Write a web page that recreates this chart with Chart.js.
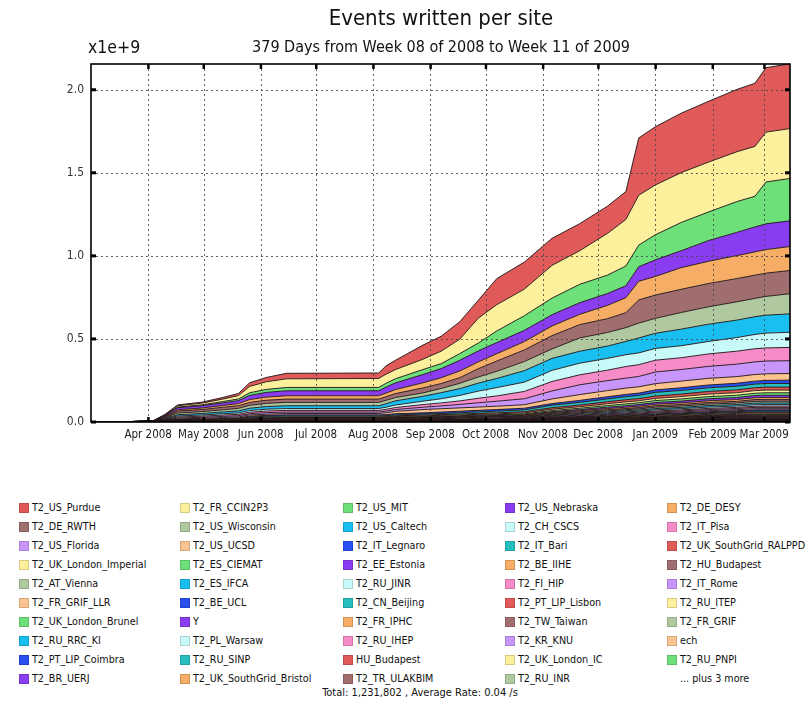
<!DOCTYPE html>
<html>
<head>
<meta charset="utf-8">
<script src="https://cdn.jsdelivr.net/npm/chart.js@4/dist/chart.umd.min.js"></script>
<style>
  body { margin: 0; background: #fff; }
  #page { position: relative; width: 806px; height: 703px; overflow: hidden; background: #fff;
          font-family: 'DejaVu Sans Condensed', 'DejaVu Sans', sans-serif; color: #111; }
  #plot { position: absolute; left: 0; top: 0; }
  .txt { position: absolute; white-space: nowrap; }
  #title { left: 91px; width: 700px; top: 4px; text-align: center; font-size: 22px; line-height: 28px; }
  #subtitle { left: 91px; width: 700px; top: 37px; text-align: center; font-size: 16px; line-height: 20px; }
  #exponent { left: 88px; top: 36px; font-size: 17.5px; line-height: 22px; }
  .legend-item { position: absolute; height: 14px; font-size: 10.7px; line-height: 14px; white-space: nowrap; }
  .legend-item .sw { position: absolute; left: 0; top: 2px; width: 10px; height: 10px; box-sizing: border-box;
                     border: 1px solid rgba(0,0,0,0.15); }
  .legend-item .lbl { position: absolute; left: 13px; top: 0; }
  #total { left: 0; width: 840px; top: 686px; text-align: center; font-size: 11px; line-height: 14px; }
</style>
</head>
<body>
<div id="page">
  <canvas id="plot" width="806" height="460"></canvas>
  <div class="txt" id="title">Events written per site</div>
  <div class="txt" id="subtitle">379 Days from Week 08 of 2008 to Week 11 of 2009</div>
  <div class="txt" id="exponent">x1e+9</div>
  <div id="legend"></div>
  <div class="txt" id="total">Total: 1,231,802 , Average Rate: 0.04 /s</div>
</div>
<script>
// Sample days, counted from 1 Mar 2008; every site value below is the
// cumulative number of events written up to that day, in millions.
const dayIndex = [0, 20, 34, 40, 47, 60, 72, 80, 86, 95, 106, 156, 160, 165, 180, 190,
                  200, 210, 220, 235, 250, 265, 280, 290, 297, 306, 320, 335, 350, 360, 366, 379];

// Month boundaries on the time axis (days from 1 Mar 2008) and their labels
const monthTickDays = [31, 61, 92, 122, 153, 184, 214, 245, 275, 306, 337, 365];
const monthTickLabels = ['Apr 2008', 'May 2008', 'Jun 2008', 'Jul 2008', 'Aug 2008', 'Sep 2008',
                         'Oct 2008', 'Nov 2008', 'Dec 2008', 'Jan 2009', 'Feb 2009', 'Mar 2009'];

// Value axis ticks (millions of events), shown in units of 1e9
const yTickValues = [0, 500, 1000, 1500, 2000];

// Large sites
const T2_US_Purdue     = [0,0,0,2,5,6,10,13,22,26,33,33,50,56,85,90,105,108,157,163,163,163,164,168,345,350,358,366,375,380,388,390];
const T2_FR_CCIN2P3    = [0,0,1,3,8,10,15,20,38,46,52,54,55,55,62,75,87,150,158,160,197,202,251,280,300,300,300,300,300,300,300,300];
const T2_US_MIT        = [0,0,0,1,4,5,8,10,16,18,20,20,23,25,30,30,40,47,70,88,100,111,111,119,130,151,170,172,185,185,252,255];
const T2_US_Nebraska   = [0,0,1,5,12,14,16,18,25,28,30,30,36,40,50,55,65,66,67,68,68,70,71,72,88,100,102,125,140,150,155,155];
const T2_DE_DESY       = [0,0,0,3,8,9,11,13,17,19,20,20,22,24,31,35,40,41,44,50,58,62,80,90,112,112,130,134,138,140,142,144];
const T2_DE_RWTH       = [0,0,1,5,12,13,15,16,18,19,20,20,22,24,30,30,34,50,62,70,80,80,83,90,140,140,140,140,140,140,140,140];
const T2_US_Wisconsin  = [0,0,1,4,10,11,13,15,17,19,20,20,20,20,20,25,32,37,43,55,57,80,82,83,89,90,100,105,110,110,113,121];
const T2_US_Caltech    = [0,0,0,3,8,9,11,12,14,16,17,17,21,25,30,37,41,48,55,69,72,72,74,80,90,91,100,104,105,107,108,111];
const T2_CH_CSCS       = [0,0,1,3,6,7,8,9,10,11,11,11,13,15,20,25,33,43,50,56,67,70,71,71,71,71,72,75,82,86,89,91];
const T2_IT_Pisa       = [0,0,0,3,6,7,8,8,9,10,10,10,11,12,16,18,21,27,32,44,57,60,63,70,71,71,71,75,78,79,79,80];
const T2_US_Florida    = [0,0,0,2,5,6,7,7,8,9,9,9,10,11,14,17,21,26,30,36,48,59,60,60,62,70,70,72,75,76,77,77];
const T2_US_UCSD       = [0,0,0,2,4,5,6,6,7,7,8,8,11,14,20,20,20,20,20,21,28,35,37,38,38,38,40,40,40,40,40,40];
const T2_IT_Legnaro    = [0,0,0,1,2,2,3,4,5,6,6,6,6,7,7,9,9,9,10,10,10,12,13,14,14,15,16,17,18,18,18,20];
const T2_IT_Bari       = [0,0,0,1,2,2,3,3,5,6,6,6,6,6,6,6,8,9,10,11,15,16,17,18,19,22,22,22,22,22,22,22];

// Smaller sites
const T2_UK_SouthGrid_RALPPD = [0,0,1,1,2,2,2,3,3,3,4,4,4,4,5,5,5,6,6,7,9,10,12,13,13,14,15,16,17,17,18,18];
const T2_UK_London_Imperial  = [0,0,0,1,1,1,2,2,2,3,3,3,3,4,4,4,5,5,5,6,8,9,11,12,12,13,14,15,15,16,16,16];
const T2_ES_CIEMAT      = [0,1,1,1,2,2,2,2,3,3,3,3,3,3,4,4,4,4,5,5,7,8,10,11,11,12,13,13,14,14,15,15];
const T2_EE_Estonia     = [0,0,0,0,1,1,1,1,2,2,2,2,2,3,3,3,3,3,4,4,5,7,8,9,10,10,11,12,12,13,13,13];
const T2_BE_IIHE        = [0,0,0,1,1,1,1,1,2,2,2,2,2,2,3,3,3,3,3,4,5,6,7,8,8,9,10,10,11,11,12,12];
const T2_HU_Budapest    = [0,0,1,1,1,1,1,1,2,2,3,3,3,3,3,3,3,3,3,3,5,6,7,7,8,9,9,10,10,11,11,11];
const T2_AT_Vienna      = [0,1,1,1,1,2,2,2,2,3,3,3,3,3,3,3,3,4,4,4,5,5,6,6,7,8,8,9,9,10,10,10];
const T2_ES_IFCA        = [0,0,0,0,1,1,1,1,1,1,2,2,2,2,2,3,3,3,3,3,4,5,6,7,7,8,8,9,9,10,10,10];
const T2_RU_JINR        = [0,0,0,1,1,1,1,1,1,2,2,2,2,2,2,2,3,3,3,3,4,5,5,6,6,7,7,8,8,9,9,9];
const T2_FI_HIP         = [0,0,0,0,0,0,0,0,1,1,1,1,1,1,1,2,2,2,2,2,3,4,4,5,5,6,6,7,7,7,8,8];
const T2_IT_Rome        = [0,0,0,0,0,0,0,1,1,1,1,1,1,1,2,2,2,2,2,3,4,4,5,5,5,6,6,7,7,8,8,8];
const T2_FR_GRIF_LLR    = [0,0,0,0,0,0,0,0,1,1,1,1,1,1,1,1,1,2,2,2,3,3,4,4,5,5,6,6,6,7,7,7];
const T2_BE_UCL         = [0,0,0,0,0,0,0,0,0,0,0,0,0,1,1,1,1,1,1,2,3,3,4,4,4,5,5,6,6,7,7,7];
const T2_CN_Beijing     = [0,0,0,0,0,0,0,0,1,1,1,1,1,1,1,1,1,1,1,2,2,3,3,4,4,4,5,5,5,6,6,6];
const T2_PT_LIP_Lisbon  = [0,0,0,0,0,0,0,0,0,0,0,0,0,1,1,1,1,1,1,1,2,2,3,3,4,4,5,5,5,6,6,6];
const T2_RU_ITEP        = [0,0,0,0,0,0,1,1,1,1,1,1,1,1,1,1,1,1,1,1,2,2,3,3,3,4,4,4,5,5,5,5];
const T2_UK_London_Brunel = [0,0,0,0,0,0,0,1,1,1,1,1,1,1,1,1,1,1,1,1,2,2,3,3,3,3,4,4,4,5,5,5];
const Y                 = [0,0,0,0,0,0,0,0,0,0,0,0,0,0,1,1,1,1,1,1,1,2,2,2,3,3,3,3,4,4,4,4];
const T2_FR_IPHC        = [0,0,0,0,0,1,1,1,1,1,1,1,1,1,1,1,1,1,1,1,2,2,2,3,3,3,3,3,4,4,4,4];
const T2_TW_Taiwan      = [0,0,0,0,0,0,0,0,0,0,0,0,1,1,1,1,1,1,1,1,1,2,2,2,2,3,3,3,3,4,4,4];
const T2_FR_GRIF        = [0,0,0,0,0,0,0,0,0,0,0,0,0,0,0,0,1,1,1,1,1,1,2,2,2,2,2,3,3,3,3,3];
const T2_RU_RRC_KI      = [0,0,0,0,0,0,0,0,0,0,0,0,0,1,1,1,1,1,1,1,1,2,2,2,2,2,2,3,3,3,3,3];
const T2_PL_Warsaw      = [0,0,0,0,0,0,0,0,0,0,0,0,0,0,0,1,1,1,1,1,1,1,2,2,2,2,2,2,3,3,3,3];
const T2_RU_IHEP        = [0,0,0,0,0,0,0,0,0,0,0,0,0,0,0,0,0,1,1,1,1,1,1,2,2,2,2,3,3,3,3,3];
const T2_KR_KNU         = [0,0,0,0,0,0,0,0,0,0,0,0,0,0,0,0,0,0,1,1,1,1,1,1,1,1,2,2,2,2,2,2];
const ech               = [0,0,0,0,0,0,0,0,0,0,0,0,0,0,0,0,0,0,0,1,1,1,1,1,1,2,2,2,2,2,2,2];
const T2_PT_LIP_Coimbra = [0,0,0,0,0,0,0,0,0,0,0,0,0,0,0,0,0,0,0,0,1,1,1,1,1,1,1,2,2,2,2,2];
const T2_RU_SINP        = [0,0,0,0,0,0,0,0,0,0,0,0,0,0,0,0,0,0,0,0,0,1,1,1,1,1,2,2,2,2,2,2];
const HU_Budapest       = [0,0,0,0,0,0,0,0,0,0,0,0,0,0,0,0,0,0,0,0,1,1,1,1,1,1,1,1,2,2,2,2];
const T2_UK_London_IC   = [0,0,0,0,0,0,0,0,0,0,0,0,0,0,0,0,0,0,0,0,0,0,1,1,1,1,1,2,2,2,2,2];
const T2_RU_PNPI        = [0,0,0,0,0,0,0,0,0,0,0,0,0,0,0,0,0,0,0,0,0,1,1,1,1,1,1,1,1,1,1,1];
const T2_BR_UERJ        = [0,0,0,0,0,0,0,0,0,0,0,0,0,0,0,0,0,0,0,0,0,0,0,1,1,1,1,1,1,1,1,1];
const T2_UK_SouthGrid_Bristol = [0,0,0,0,0,0,0,0,0,0,0,0,0,0,0,0,0,0,0,0,0,0,0,0,0,1,1,1,1,1,1,1];
const T2_TR_ULAKBIM     = [0,0,0,0,0,0,0,0,0,0,0,0,0,0,0,0,0,0,0,0,1,1,1,1,1,1,1,1,1,1,1,1];
const T2_RU_INR         = [0,0,0,0,0,0,0,0,0,0,0,0,0,0,0,0,0,0,0,0,0,0,0,0,0,0,1,1,1,1,1,1];
// Remaining three sites (not listed by name)
const moreSiteA         = [0,0,0,0,0,0,0,0,0,0,0,0,0,0,0,0,0,0,0,0,0,0,0,0,1,1,1,1,1,1,1,1];
const moreSiteB         = [0,0,0,0,0,0,0,0,0,0,0,0,0,0,0,0,0,0,0,0,0,0,0,0,0,0,0,1,1,1,1,1];
const moreSiteC         = [0,0,0,0,0,0,0,0,0,0,0,0,0,0,0,0,0,0,0,0,0,0,0,0,0,0,0,0,1,1,1,1];

// Stack order, top band first (this is also the legend order)
const sites = [
  ['T2_US_Purdue', T2_US_Purdue], ['T2_FR_CCIN2P3', T2_FR_CCIN2P3], ['T2_US_MIT', T2_US_MIT],
  ['T2_US_Nebraska', T2_US_Nebraska], ['T2_DE_DESY', T2_DE_DESY], ['T2_DE_RWTH', T2_DE_RWTH],
  ['T2_US_Wisconsin', T2_US_Wisconsin], ['T2_US_Caltech', T2_US_Caltech], ['T2_CH_CSCS', T2_CH_CSCS],
  ['T2_IT_Pisa', T2_IT_Pisa], ['T2_US_Florida', T2_US_Florida], ['T2_US_UCSD', T2_US_UCSD],
  ['T2_IT_Legnaro', T2_IT_Legnaro], ['T2_IT_Bari', T2_IT_Bari], ['T2_UK_SouthGrid_RALPPD', T2_UK_SouthGrid_RALPPD],
  ['T2_UK_London_Imperial', T2_UK_London_Imperial], ['T2_ES_CIEMAT', T2_ES_CIEMAT], ['T2_EE_Estonia', T2_EE_Estonia],
  ['T2_BE_IIHE', T2_BE_IIHE], ['T2_HU_Budapest', T2_HU_Budapest], ['T2_AT_Vienna', T2_AT_Vienna],
  ['T2_ES_IFCA', T2_ES_IFCA], ['T2_RU_JINR', T2_RU_JINR], ['T2_FI_HIP', T2_FI_HIP],
  ['T2_IT_Rome', T2_IT_Rome], ['T2_FR_GRIF_LLR', T2_FR_GRIF_LLR], ['T2_BE_UCL', T2_BE_UCL],
  ['T2_CN_Beijing', T2_CN_Beijing], ['T2_PT_LIP_Lisbon', T2_PT_LIP_Lisbon], ['T2_RU_ITEP', T2_RU_ITEP],
  ['T2_UK_London_Brunel', T2_UK_London_Brunel], ['Y', Y], ['T2_FR_IPHC', T2_FR_IPHC],
  ['T2_TW_Taiwan', T2_TW_Taiwan], ['T2_FR_GRIF', T2_FR_GRIF], ['T2_RU_RRC_KI', T2_RU_RRC_KI],
  ['T2_PL_Warsaw', T2_PL_Warsaw], ['T2_RU_IHEP', T2_RU_IHEP], ['T2_KR_KNU', T2_KR_KNU],
  ['ech', ech], ['T2_PT_LIP_Coimbra', T2_PT_LIP_Coimbra], ['T2_RU_SINP', T2_RU_SINP],
  ['HU_Budapest', HU_Budapest], ['T2_UK_London_IC', T2_UK_London_IC], ['T2_RU_PNPI', T2_RU_PNPI],
  ['T2_BR_UERJ', T2_BR_UERJ], ['T2_UK_SouthGrid_Bristol', T2_UK_SouthGrid_Bristol], ['T2_TR_ULAKBIM', T2_TR_ULAKBIM],
  ['T2_RU_INR', T2_RU_INR], ['', moreSiteA], ['', moreSiteB], ['', moreSiteC]
];
const namedSiteCount = 49;

// Colour cycle used for the bands
const palette = ['#e05a5a', '#fcf09c', '#6ee07a', '#8a3cf0', '#f6ae66', '#a06e6e', '#b0c8a0',
                 '#18bff0', '#c8fafa', '#f58cc8', '#c896fa', '#fac390', '#2850f0', '#28bebe'];

const FONT = "'DejaVu Sans Condensed', 'DejaVu Sans', sans-serif";

// Datasets are added bottom band first so the stack builds upward
const datasets = [];
for (let i = sites.length - 1; i >= 0; i--) {
  const [name, values] = sites[i];
  datasets.push({
    label: name || ('site ' + (i + 1)),
    data: dayIndex.map((d, k) => ({ x: d, y: values[k] })),
    backgroundColor: palette[i % palette.length],
    borderColor: 'rgba(30,18,18,0.9)',
    borderWidth: 1,
    pointRadius: 0,
    tension: 0,
    fill: datasets.length === 0 ? 'origin' : '-1'
  });
}

// Dotted grid over the bands, the frame and the small inward tick marks
const framePlugin = {
  id: 'frame',
  afterDatasetsDraw(chart) {
    const { ctx, chartArea: a, scales: { x, y } } = chart;
    ctx.save();
    ctx.strokeStyle = 'rgba(70,70,70,0.85)';
    ctx.lineWidth = 1;
    ctx.setLineDash([2, 3]);
    yTickValues.forEach(v => {
      if (v === 0) return;
      const py = Math.round(y.getPixelForValue(v)) + 0.5;
      ctx.beginPath(); ctx.moveTo(a.left, py); ctx.lineTo(a.right, py); ctx.stroke();
    });
    monthTickDays.forEach(d => {
      const px = Math.round(x.getPixelForValue(d)) + 0.5;
      ctx.beginPath(); ctx.moveTo(px, a.top); ctx.lineTo(px, a.bottom); ctx.stroke();
    });
    ctx.setLineDash([]);
    ctx.fillStyle = '#000';
    yTickValues.forEach(v => {
      const py = y.getPixelForValue(v);
      ctx.fillRect(a.left, py - 1.5, 5, 3);
      ctx.fillRect(a.right - 5, py - 1.5, 5, 3);
    });
    monthTickDays.forEach(d => {
      const px = x.getPixelForValue(d);
      ctx.fillRect(px - 1, a.top, 2.5, 5);
      ctx.fillRect(px - 1, a.bottom - 5, 2.5, 5);
    });
    ctx.strokeStyle = '#000';
    ctx.lineWidth = 1.6;
    ctx.strokeRect(a.left, a.top, a.right - a.left, a.bottom - a.top);
    ctx.restore();
  }
};

new Chart(document.getElementById('plot'), {
  type: 'line',
  data: { datasets },
  options: {
    responsive: false,
    animation: false,
    devicePixelRatio: 1,
    layout: { padding: { left: 0, top: 64, right: 16, bottom: 0 } },
    plugins: { legend: { display: false }, tooltip: { enabled: false }, title: { display: false } },
    scales: {
      x: {
        type: 'linear', min: 0, max: 379,
        afterBuildTicks: s => { s.ticks = monthTickDays.map(v => ({ value: v })); },
        afterFit: s => { s.height = 38; },
        ticks: {
          autoSkip: false, maxRotation: 0, minRotation: 0, padding: 6,
          color: '#222', font: { family: FONT, size: 11.5 },
          callback: v => monthTickLabels[monthTickDays.indexOf(v)]
        },
        grid: { display: false, drawTicks: false },
        border: { display: false }
      },
      y: {
        stacked: true, min: 0, max: 2155,
        afterBuildTicks: s => { s.ticks = yTickValues.map(v => ({ value: v })); },
        afterFit: s => { s.width = 91; },
        ticks: {
          padding: 7, color: '#333', font: { family: FONT, size: 12 },
          callback: v => (v / 1000).toFixed(1)
        },
        grid: { display: false, drawTicks: false },
        border: { display: false }
      }
    }
  },
  plugins: [framePlugin]
});

// Legend: five columns, filled row by row in stack order
const legendEl = document.getElementById('legend');
const legendColumnsX = [19, 180, 343, 505, 667];
for (let i = 0; i <= namedSiteCount; i++) {
  const row = Math.floor(i / 5), col = i % 5;
  const item = document.createElement('div');
  item.className = 'legend-item';
  item.style.left = legendColumnsX[col] + 'px';
  item.style.top = (500.5 + row * 19.1) + 'px';
  if (i < namedSiteCount) {
    const sw = document.createElement('span');
    sw.className = 'sw';
    sw.style.background = palette[i % palette.length];
    item.appendChild(sw);
  }
  const lbl = document.createElement('span');
  lbl.className = 'lbl';
  lbl.textContent = i < namedSiteCount ? sites[i][0] : '... plus 3 more';
  item.appendChild(lbl);
  legendEl.appendChild(item);
}
</script>
</body>
</html>
